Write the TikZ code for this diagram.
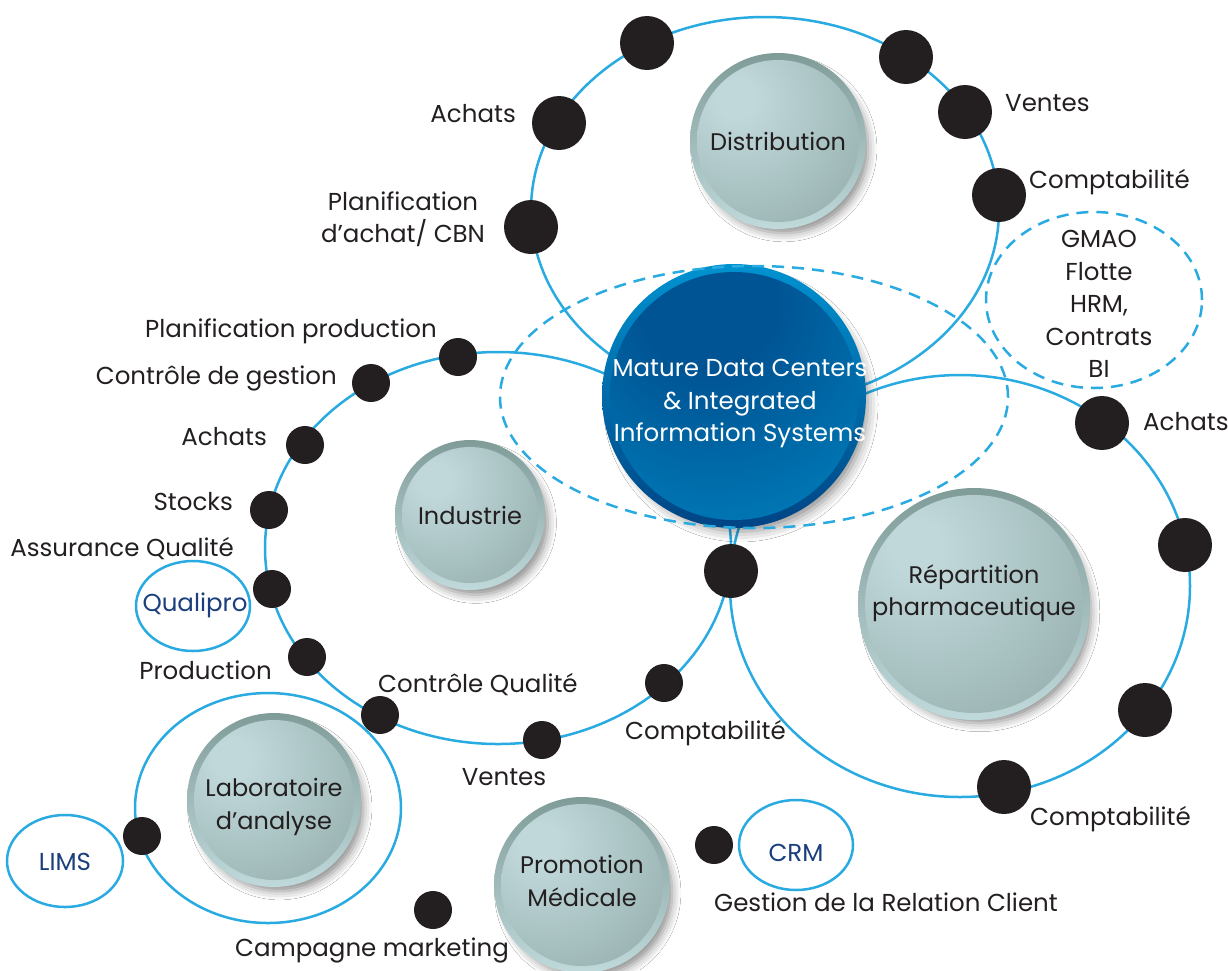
\documentclass[tikz,border=0pt]{standalone}
\usepackage{fontspec}
\setmainfont{Poppins}
\usetikzlibrary{shapes.geometric,shadows.blur}
\definecolor{ringblue}{RGB}{41,171,226}
\definecolor{dotblack}{RGB}{35,31,32}
\definecolor{txt}{RGB}{35,31,32}
\definecolor{navy}{RGB}{27,62,125}
\definecolor{gLight}{RGB}{192,216,218}
\definecolor{gMid}{RGB}{154,179,178}
\definecolor{gDark}{RGB}{120,147,144}
\definecolor{gRimTop}{RGB}{128,156,153}
\definecolor{gRimBot}{RGB}{192,217,219}
\definecolor{bDark}{RGB}{0,84,148}
\definecolor{bLight}{RGB}{0,162,220}
\definecolor{bRimTop}{RGB}{0,146,208}
\definecolor{bRimBot}{RGB}{0,68,132}
\pgfdeclareradialshading{sphgray}{\pgfpoint{-14bp}{14bp}}{color(0bp)=(gLight); color(6bp)=(gLight); color(40bp)=(gMid); color(66bp)=(gDark); color(100bp)=(gDark)}
\pgfdeclareradialshading{sphblue}{\pgfpoint{-6bp}{22bp}}{color(0bp)=(bDark); color(14bp)=(bDark); color(72bp)=(bLight); color(100bp)=(bLight)}
% name, x, y, radius, text, text y-offset
\newcommand\mysphere[6]{%
  \path[blur shadow={shadow xshift=6pt, shadow yshift=-8pt, shadow blur radius=9pt, shadow scale=0.96, shadow opacity=45}, top color=gRimTop, bottom color=gRimBot] (#2,#3) circle[radius=#4];
  \path[shading=sphgray] (#2,#3) circle[radius=#4-7];
  \node[circle, inner sep=0pt, minimum size=2*#4, circtxt] (#1) at (#2,#3+#6) {#5};
}
\begin{document}
\begin{tikzpicture}[x=1pt,y=-1pt,
  ring/.style={draw=ringblue, line width=2.5pt, ellipse, inner sep=0pt},
  dashring/.style={ring, dash pattern=on 12pt off 8pt},
  bigdot/.style={circle, fill=dotblack, inner sep=0pt, minimum size=54pt},
  smalldot/.style={circle, fill=dotblack, inner sep=0pt, minimum size=38pt},
  lbl/.style={text=txt, font=\fontsize{24.5}{32.5}\selectfont, inner sep=0pt, text height=17.5pt, text depth=0pt},
  multi/.style={text=txt, font=\fontsize{24.5}{32.5}\selectfont, inner sep=0pt, align=center},
  circtxt/.style={text=txt, font=\fontsize{24}{32.5}\selectfont, align=center},
  navytxt/.style={text=navy, font=\fontsize{24.5}{32.5}\selectfont, inner sep=0pt},
]
\useasboundingbox[fill=white] (0,0) rectangle (1228,970);
% rings
\node[ring, minimum width=468pt, minimum height=386pt] (ringDist) at (765,210) {};
\node[ring, minimum width=466pt, minimum height=392pt] (ringInd) at (498,548) {};
\node[ring, minimum width=460pt, minimum height=422pt] (ringRep) at (960,586) {};
\node[ring, minimum width=266pt, minimum height=230pt] (ringLab) at (268,808) {};
\node[ring, minimum width=114pt, minimum height=90pt] (qualiEll) at (193,606) {};
\node[ring, minimum width=116pt, minimum height=92pt] (limsEll) at (65,861) {};
\node[ring, minimum width=114pt, minimum height=90pt] (crmEll) at (796,845) {};
% grey spheres
\mysphere{dist}{778}{141}{88}{Distribution}{0}
\mysphere{ind}{470}{515}{75}{Industrie}{0}
\mysphere{rep}{974}{604}{116}{Répartition\\pharmaceutique}{-11}
\mysphere{lab}{274}{800}{87}{Laboratoire\\d’analyse}{7}
\mysphere{promo}{582}{885}{88}{Promotion\\Médicale}{-4}
% main sphere
\path[blur shadow={shadow xshift=7pt, shadow yshift=-9pt, shadow blur radius=11pt, shadow scale=0.96, shadow opacity=45}, top color=bRimTop, bottom color=bRimBot] (734,396) circle[radius=132];
\path[shading=sphblue] (734,396) circle[radius=124];
\node[circle, inner sep=0pt, minimum size=264pt, circtxt, text=white, font=\fontsize{24.5}{32.5}\selectfont] (main) at (740,404) {Mature Data Centers\\\& Integrated\\Information Systems};
% dashed ellipses
\node[dashring, minimum width=508pt, minimum height=262pt] (dashBig) at (754,397) {};
\node[dashring, minimum width=216pt, minimum height=176pt] (dashGmao) at (1094,300) {};
% dots top ring
\node[bigdot] (dT1) at (647,43) {};
\node[bigdot] (dT2) at (559,123) {};
\node[bigdot] (dT3) at (531,227) {};
\node[bigdot] (dT4) at (906,57) {};
\node[bigdot] (dT5) at (965,112) {};
\node[bigdot] (dT6) at (999,195) {};
% dots industrie ring
\node[smalldot] (dI1) at (458,357) {};
\node[smalldot] (dI2) at (371,383) {};
\node[smalldot] (dI3) at (305,445) {};
\node[smalldot] (dI4) at (269,510) {};
\node[smalldot] (dI5) at (272,589) {};
\node[smalldot] (dI6) at (307,657) {};
\node[smalldot] (dI7) at (380,715) {};
\node[smalldot] (dI8) at (542,740) {};
\node[smalldot] (dI9) at (664,683) {};
\node[bigdot] (dJ) at (731,571) {};
% dots repartition ring
\node[bigdot] (dR1) at (1102,423) {};
\node[bigdot] (dR2) at (1185,545) {};
\node[bigdot] (dR3) at (1145,710) {};
\node[bigdot] (dR4) at (1004,787) {};
% other dots
\node[smalldot] (dL) at (142,836) {};
\node[smalldot] (dC) at (714,845) {};
\node[smalldot] (dM) at (433,910) {};
% labels
\node[lbl, anchor=east] (tAchatsT) at (516,114) {Achats};
\node[multi] (tPlanAchat) at (403,219) {Planification\\d’achat/ CBN};
\node[lbl, anchor=west] (tVentesT) at (1005,103) {Ventes};
\node[lbl, anchor=west] (tComptaT) at (1029,180) {Comptabilité};
\node[multi] (tGmao) at (1099,304) {GMAO\\Flotte\\HRM,\\Contrats\\BI};
\node[lbl, anchor=east] (tPlanProd) at (437,329) {Planification production};
\node[lbl, anchor=east] (tCtrlGest) at (337,376) {Contrôle de gestion};
\node[lbl, anchor=east] (tAchatsL) at (267,437) {Achats};
\node[lbl, anchor=east] (tStocks) at (233,502) {Stocks};
\node[lbl, anchor=east] (tAssur) at (234,548) {Assurance Qualité};
\node[navytxt] (tQuali) at (195,605) {Qualipro};
\node[lbl, anchor=east] (tProd) at (272,671) {Production};
\node[lbl, anchor=west] (tCtrlQual) at (378,684) {Contrôle Qualité};
\node[lbl, anchor=west] (tComptaL) at (625,731) {Comptabilité};
\node[lbl] (tVentesB) at (504,777) {Ventes};
\node[lbl, anchor=west] (tAchatsR) at (1143,422) {Achats};
\node[lbl, anchor=west] (tComptaR) at (1030,817) {Comptabilité};
\node[navytxt] (tLims) at (65,862) {LIMS};
\node[navytxt] (tCrm) at (796,853) {CRM};
\node[lbl, anchor=west] (tGrc) at (714,903) {Gestion de la Relation Client};
\node[lbl] (tCamp) at (372,948) {Campagne marketing};
\end{tikzpicture}
\end{document}
